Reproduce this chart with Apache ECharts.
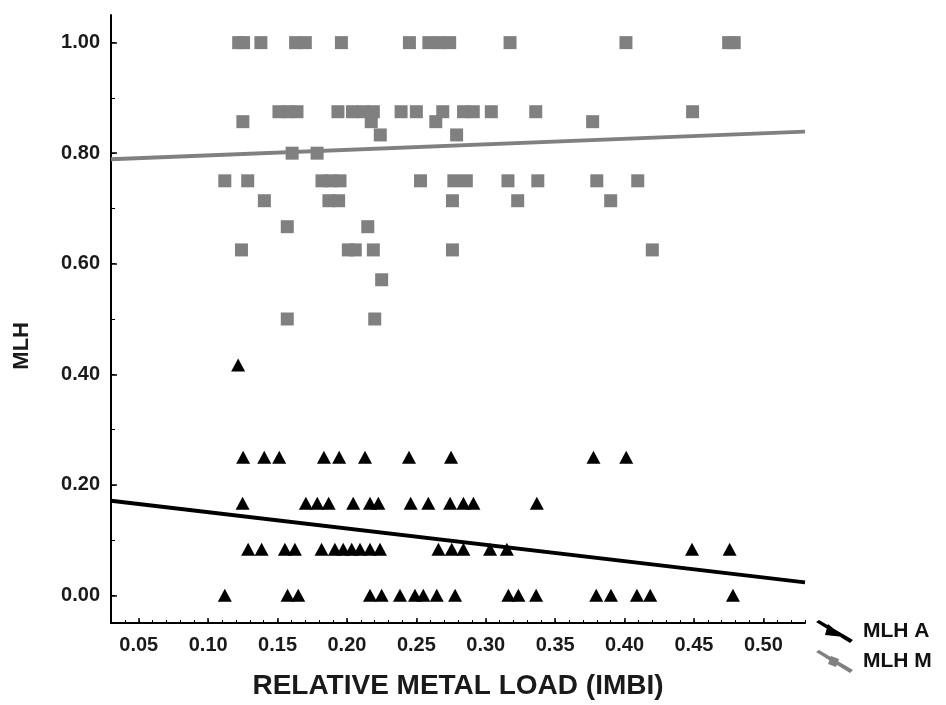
<!DOCTYPE html>
<html>
<head>
<meta charset="utf-8">
<script src="https://cdn.jsdelivr.net/npm/echarts@6/dist/echarts.min.js"></script>
<style>
html,body{margin:0;padding:0;background:#fff;}
#chart{width:946px;height:705px;}
</style>
</head>
<body>
<div id="chart"></div>
<script>
// ---- Data ----
const xTickLabels = [0.05, 0.10, 0.15, 0.20, 0.25, 0.30, 0.35, 0.40, 0.45, 0.50];
const yTickLabels = [0.00, 0.20, 0.40, 0.60, 0.80, 1.00];
const xAxisName = 'RELATIVE METAL LOAD (IMBI)';
const yAxisName = 'MLH';
const seriesNames = ['MLH A', 'MLH M'];

// MLH M (grey squares)
const mlhMX = [
  0.122, 0.1255, 0.138, 0.163, 0.170, 0.196, 0.245, 0.259, 0.267, 0.274, 0.3175, 0.401, 0.475, 0.479,
  0.151, 0.158, 0.164, 0.1935, 0.204, 0.2115, 0.219, 0.239, 0.250, 0.269, 0.284, 0.291, 0.304, 0.336, 0.449,
  0.125, 0.2175, 0.264, 0.377,
  0.224, 0.279,
  0.1605, 0.1785,
  0.112, 0.1285, 0.182, 0.1885, 0.195, 0.253, 0.277, 0.286, 0.316, 0.3375, 0.380, 0.4095,
  0.1405, 0.187, 0.194, 0.276, 0.323, 0.390,
  0.157, 0.215,
  0.124, 0.201, 0.206, 0.219, 0.276, 0.420,
  0.225,
  0.157, 0.220
];
const mlhMY = [
  1, 1, 1, 1, 1, 1, 1, 1, 1, 1, 1, 1, 1, 1,
  0.875, 0.875, 0.875, 0.875, 0.875, 0.875, 0.875, 0.875, 0.875, 0.875, 0.875, 0.875, 0.875, 0.875, 0.875,
  0.857, 0.857, 0.857, 0.857,
  0.833, 0.833,
  0.8, 0.8,
  0.75, 0.75, 0.75, 0.75, 0.75, 0.75, 0.75, 0.75, 0.75, 0.75, 0.75, 0.75,
  0.714, 0.714, 0.714, 0.714, 0.714, 0.714,
  0.667, 0.667,
  0.625, 0.625, 0.625, 0.625, 0.625, 0.625,
  0.571,
  0.5, 0.5
];

// MLH A (black triangles)
const mlhAX = [
  0.1216,
  0.1252, 0.1404, 0.1512, 0.1834, 0.1944, 0.213, 0.2447, 0.275, 0.3776, 0.4012,
  0.1248, 0.1704, 0.1786, 0.1868, 0.2045, 0.2166, 0.2226, 0.2459, 0.2586, 0.2743, 0.2839, 0.2911, 0.3368,
  0.1288, 0.1385, 0.1553, 0.1625, 0.1817, 0.1913, 0.1973, 0.2034, 0.2094, 0.2166, 0.2238, 0.2659, 0.2755, 0.2839, 0.3031, 0.3152, 0.4486, 0.4757,
  0.112, 0.1572, 0.1649, 0.2166, 0.225, 0.2382, 0.249, 0.255, 0.2647, 0.2779, 0.3163, 0.3235, 0.3363, 0.3796, 0.3902, 0.4089, 0.4185, 0.4781
];
const mlhAY = [
  0.4167,
  0.25, 0.25, 0.25, 0.25, 0.25, 0.25, 0.25, 0.25, 0.25, 0.25,
  0.1667, 0.1667, 0.1667, 0.1667, 0.1667, 0.1667, 0.1667, 0.1667, 0.1667, 0.1667, 0.1667, 0.1667, 0.1667,
  0.0833, 0.0833, 0.0833, 0.0833, 0.0833, 0.0833, 0.0833, 0.0833, 0.0833, 0.0833, 0.0833, 0.0833, 0.0833, 0.0833, 0.0833, 0.0833, 0.0833, 0.0833,
  0, 0, 0, 0, 0, 0, 0, 0, 0, 0, 0, 0, 0, 0, 0, 0, 0, 0
];

// Regression line end points [x, y]
const fitAX = [0.03, 0.53];
const fitAY = [0.1712, 0.0235];
const fitMX = [0.03, 0.53];
const fitMY = [0.789, 0.839];

// ---- Build ----
const zip = (xs, ys) => xs.map((x, i) => [x, ys[i]]);
const xMin = 0.03, xMax = 0.53, yMin = -0.05, yMax = 1.05;
const xMinorTicks = [];
for (let v = 4; v <= 53; v++) xMinorTicks.push(+(v / 100).toFixed(2));
const yMinorTicks = [];
for (let v = 0; v <= 10; v++) yMinorTicks.push(+(v / 10).toFixed(1));

const FONT = '"Liberation Sans", Arial, sans-serif';
const labelStyle = {fontFamily: FONT, fontWeight: 'bold', fontSize: 20, color: '#1a1a1a'};

const iconA = 'path://M0,2 L3,0 L37,20 L34,23 Z M12,4 L28,17 L9,15 Z';
const iconM = 'path://M0,2 L3,0 L37,20 L34,23 Z M15,6 L23,9 L20,17 L12,14 Z';

const chart = echarts.init(document.getElementById('chart'), null, {renderer: 'canvas'});
chart.setOption({
  backgroundColor: '#ffffff',
  animation: false,
  grid: {left: 111, right: 141, top: 15, bottom: 82, containLabel: false},
  legend: {
    orient: 'vertical', left: 816, top: 620, padding: 0,
    itemWidth: 37, itemHeight: 23, itemGap: 7,
    textStyle: {fontFamily: FONT, fontWeight: 'bold', fontSize: 21, color: '#111', padding: [0, 0, 0, 5]},
    data: [
      {name: seriesNames[0], icon: iconA, itemStyle: {color: '#000'}},
      {name: seriesNames[1], icon: iconM, itemStyle: {color: '#808080'}}
    ]
  },
  xAxis: [{
    type: 'value', min: xMin, max: xMax,
    name: xAxisName, nameLocation: 'middle', nameGap: 49,
    nameTextStyle: {fontFamily: FONT, fontWeight: 'bold', fontSize: 28, color: '#1a1a1a'},
    axisLine: {show: true, onZero: false, lineStyle: {color: '#000', width: 2}},
    axisTick: {show: true, inside: true, length: 3, customValues: xMinorTicks, lineStyle: {color: '#000', width: 1}},
    axisLabel: Object.assign({margin: 12, customValues: xTickLabels, formatter: v => v.toFixed(2)}, labelStyle),
    splitLine: {show: false}
  }, {
    type: 'value', min: xMin, max: xMax, position: 'bottom',
    axisLine: {show: false, onZero: false},
    axisTick: {show: true, inside: true, length: 5, customValues: xTickLabels, lineStyle: {color: '#000', width: 1.5}},
    axisLabel: {show: false},
    splitLine: {show: false}
  }],
  yAxis: [{
    type: 'value', min: yMin, max: yMax,
    axisLine: {show: true, onZero: false, lineStyle: {color: '#000', width: 2}},
    axisTick: {show: true, inside: true, length: 4, customValues: yMinorTicks, lineStyle: {color: '#000', width: 1}},
    axisLabel: Object.assign({margin: 11, customValues: yTickLabels, formatter: v => v.toFixed(2)}, labelStyle),
    splitLine: {show: false}
  }, {
    type: 'value', min: yMin, max: yMax, position: 'left',
    axisLine: {show: false, onZero: false},
    axisTick: {show: true, inside: true, length: 6, customValues: yTickLabels, lineStyle: {color: '#000', width: 1.5}},
    axisLabel: {show: false},
    splitLine: {show: false}
  }],
  graphic: [{
    type: 'text', left: 11, top: 322, rotation: Math.PI / 2,
    style: {text: yAxisName, fill: '#1a1a1a', font: 'bold 22px ' + FONT}
  }],
  series: [
    {name: seriesNames[1], type: 'line', data: zip(fitMX, fitMY), symbol: 'none',
     lineStyle: {color: '#808080', width: 4}, itemStyle: {color: '#808080'}, z: 2},
    {name: seriesNames[0], type: 'line', data: zip(fitAX, fitAY), symbol: 'none',
     lineStyle: {color: '#000', width: 4}, itemStyle: {color: '#000'}, z: 2},
    {name: seriesNames[1], type: 'scatter', data: zip(mlhMX, mlhMY), symbol: 'rect', symbolSize: 13,
     itemStyle: {color: '#808080', opacity: 1}, z: 3},
    {name: seriesNames[0], type: 'scatter', data: zip(mlhAX, mlhAY), symbol: 'triangle', symbolSize: [14, 13],
     itemStyle: {color: '#000', opacity: 1}, z: 3}
  ]
});
</script>
</body>
</html>
